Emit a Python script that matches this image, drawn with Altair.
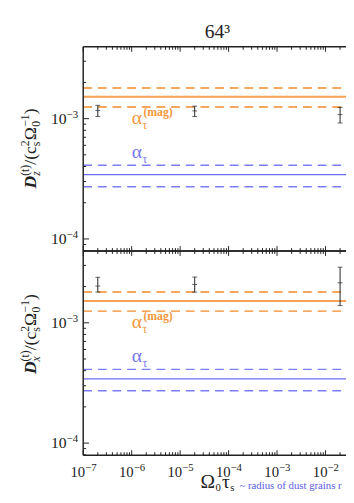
import altair as alt
import pandas as pd

FONT = "Liberation Serif"
W, H = 269, 209          # one panel; two stacked panels share the x axis

# ---- data ----
x_pts = [2e-7, 2e-5, 2e-2]
dz_val = [1.17e-3, 1.16e-3, 1.08e-3]
dz_lo = [1.04e-3, 1.04e-3, 0.92e-3]
dz_hi = [1.29e-3, 1.27e-3, 1.24e-3]
dx_val = [2.02e-3, 2.08e-3, 2.15e-3]
dx_lo = [1.80e-3, 1.80e-3, 1.39e-3]
dx_hi = [2.39e-3, 2.40e-3, 2.90e-3]

alpha_mag = [1.52e-3]
alpha_mag_band = [1.25e-3, 1.80e-3]
alpha_t = [3.42e-4]
alpha_t_band = [2.72e-4, 4.10e-4]

label_x = [1e-6]
mag_label_y = [9e-4]
t_label_y = [4.7e-4]

x_major = [1e-7, 1e-6, 1e-5, 1e-4, 1e-3, 1e-2]
x_major_sup = ["−7", "−6", "−5", "−4", "−3", "−2"]
x_minor = [k * 10.0 ** e for e in range(-7, -1) for k in range(2, 10) if k * 10.0 ** e <= 0.0265]
y_major = [1e-4, 1e-3]
y_major_sup = ["−4", "−3"]
y_minor = [8e-5, 9e-5, 2e-4, 3e-4, 4e-4, 5e-4, 6e-4, 7e-4, 8e-4, 9e-4, 2e-3, 3e-3]

X_DOMAIN = [1e-7, 0.0265]
Y_DOMAIN = [7.94e-5, 3.95e-3]

ORANGE_SOLID = "#F8A255"
ORANGE_DASH = "#EF8A2B"
BLUE_SOLID = "#6C6CF0"
BLUE_DASH = "#7C7CF5"
INK = "#222222"

xs = alt.Scale(type="log", domain=X_DOMAIN, nice=False)

one = pd.DataFrame({"a": [0]})


def txt(s, px, py, size, color=INK, angle=0, align="left", style="normal", weight="normal"):
    return alt.Chart(one).mark_text(
        text=s, font=FONT, fontSize=size, color=color, angle=angle, align=align,
        baseline="alphabetic", fontStyle=style, fontWeight=weight
    ).encode(x=alt.value(px), y=alt.value(py))


def panel(vals, lo, hi, sub, title_start, y0):
    """y0: pixel offset of the panel top inside the shared view"""
    ys = alt.Scale(type="log", domain=Y_DOMAIN, nice=False, range=[y0 + H, y0])
    Y = lambda f: alt.Y(f, scale=ys, axis=None)
    X = lambda f: alt.X(f, scale=xs, axis=None)
    layers = []

    def hline(v, color, width, dash=None):
        kw = dict(color=color, strokeWidth=width)
        if dash:
            kw["strokeDash"] = dash
        return alt.Chart(pd.DataFrame({"v": v})).mark_rule(**kw).encode(
            y=Y("v:Q"), x=alt.value(0), x2=alt.value(W))

    layers.append(hline(alpha_mag_band, ORANGE_DASH, 1.5, [9, 6]))
    layers.append(hline(alpha_mag, ORANGE_SOLID, 2))
    layers.append(hline(alpha_t_band, BLUE_DASH, 1.5, [9, 6]))
    layers.append(hline(alpha_t, BLUE_SOLID, 1.2))

    df = pd.DataFrame({"x": x_pts, "val": vals, "lo": lo, "hi": hi})
    layers.append(alt.Chart(df).mark_rule(color=INK, strokeWidth=1).encode(
        x=X("x:Q"), y=Y("lo:Q"), y2="hi:Q"))
    layers.append(alt.Chart(df).transform_fold(["lo", "val", "hi"]).mark_tick(
        color=INK, orient="horizontal", size=5, thickness=1).encode(
        x=X("x:Q"), y=Y("value:Q")))

    # alpha labels
    for yv, col, sup_txt in [(mag_label_y, "#F3973D", "(mag)"), (t_label_y, "#7878F2", None)]:
        d = pd.DataFrame({"x": label_x, "y": yv})
        enc = dict(x=X("x:Q"), y=Y("y:Q"))
        layers.append(alt.Chart(d).mark_text(text="α", font=FONT, fontSize=20, color=col,
                                             align="left", baseline="alphabetic").encode(**enc))
        layers.append(alt.Chart(d).mark_text(text="τ", font=FONT, fontSize=12, color=col,
                                             align="left", baseline="alphabetic", dx=11, dy=5).encode(**enc))
        if sup_txt:
            layers.append(alt.Chart(d).mark_text(text=sup_txt, font=FONT, fontSize=12, color=col,
                                                 fontWeight="bold", align="left", baseline="alphabetic",
                                                 dx=12, dy=-8).encode(**enc))

    # y tick labels 10^k
    yl = pd.DataFrame({"v": y_major, "s": y_major_sup})
    layers.append(alt.Chart(yl).mark_text(text="10", font=FONT, fontSize=16, color=INK, align="right",
                                          baseline="alphabetic", dy=5.5).encode(
        y=Y("v:Q"), x=alt.value(-17)))
    layers.append(alt.Chart(yl).mark_text(font=FONT, fontSize=11, color=INK, align="left",
                                          baseline="alphabetic", dy=-1).encode(
        y=Y("v:Q"), x=alt.value(-17), text="s:N"))

    # inward ticks
    def xt(v, a, b):
        return alt.Chart(pd.DataFrame({"v": v})).mark_rule(color=INK, strokeWidth=1).encode(
            x=X("v:Q"), y=alt.value(a), y2=alt.value(b))

    def yt(v, l):
        return alt.Chart(pd.DataFrame({"v": v})).mark_rule(color=INK, strokeWidth=1).encode(
            y=Y("v:Q"), x=alt.value(0), x2=alt.value(l))

    layers += [xt(x_major, y0, y0 + 5), xt(x_minor, y0, y0 + 3),
               xt(x_major, y0 + H, y0 + H - 5), xt(x_minor, y0 + H, y0 + H - 3),
               yt(y_major, 6), yt(y_minor, 3)]

    # frame
    def frame(**enc):
        return alt.Chart(one).mark_rule(color=INK, strokeWidth=1.5).encode(**enc)

    layers.append(frame(x=alt.value(0), y=alt.value(y0), y2=alt.value(y0 + H)))
    layers.append(frame(y=alt.value(y0), x=alt.value(0), x2=alt.value(W)))
    layers.append(frame(y=alt.value(y0 + H), x=alt.value(0), x2=alt.value(W)))

    # y title  D_sub^(t)/(c_s^2 Ω_0^-1), rotated
    bx = -48
    pieces = [
        ("D", 0, 18, 0, "italic", "bold"),
        (sub, 13, 12, 4, "italic", "normal"),
        ("(t)", 13, 12, -8, "normal", "normal"),
        ("/(c", 24.3, 18, 0, "normal", "normal"),
        ("s", 43.3, 12, 4, "normal", "normal"),
        ("2", 43.3, 12, -8, "normal", "normal"),
        ("Ω", 49.3, 18, 0, "normal", "normal"),
        ("0", 63.1, 12, 4, "normal", "normal"),
        ("−1", 63.1, 12, -8, "normal", "normal"),
        (")", 75.9, 18, 0, "normal", "normal"),
    ]
    for s, off, fs, sh, st, wt in pieces:
        layers.append(txt(s, bx + sh, y0 + title_start - off, fs, angle=270, style=st, weight=wt))

    return alt.layer(*layers)


top = panel(dz_val, dz_lo, dz_hi, "z", 145, 0)
bot = panel(dx_val, dx_lo, dx_hi, "x", 126, H)

# shared x labels and titles (pixel layout in the shared view)
xl = pd.DataFrame({"v": x_major, "s": x_major_sup})
extra = [
    alt.Chart(xl).mark_text(text="10", font=FONT, fontSize=15, color=INK, align="right",
                            baseline="alphabetic", dx=2).encode(
        x=alt.X("v:Q", scale=xs, axis=None), y=alt.value(2 * H + 22)),
    alt.Chart(xl).mark_text(font=FONT, fontSize=11, color=INK, align="left",
                            baseline="alphabetic", dx=2).encode(
        x=alt.X("v:Q", scale=xs, axis=None), y=alt.value(2 * H + 16), text="s:N"),
    txt("64³", 137.5, -9, 20, align="center"),
    txt("Ω", 120, 2 * H + 34, 20),
    txt("0", 135.5, 2 * H + 37, 11),
    txt("τ", 142, 2 * H + 34, 20),
    txt("s", 150.5, 2 * H + 37, 11),
    txt("~ radius of dust grains r", 160, 2 * H + 35, 11, color="#5B5BE8"),
]

chart = alt.layer(
    top, bot, alt.layer(*extra)
).resolve_scale(y="independent").properties(
    width=W, height=2 * H,
    autosize=alt.AutoSizeParams(type="none"),
    padding={"left": 77, "top": 34, "right": 0, "bottom": 35},
).configure_view(stroke=None)

chart.save("out.html", embed_options={"renderer": "svg", "actions": False})
